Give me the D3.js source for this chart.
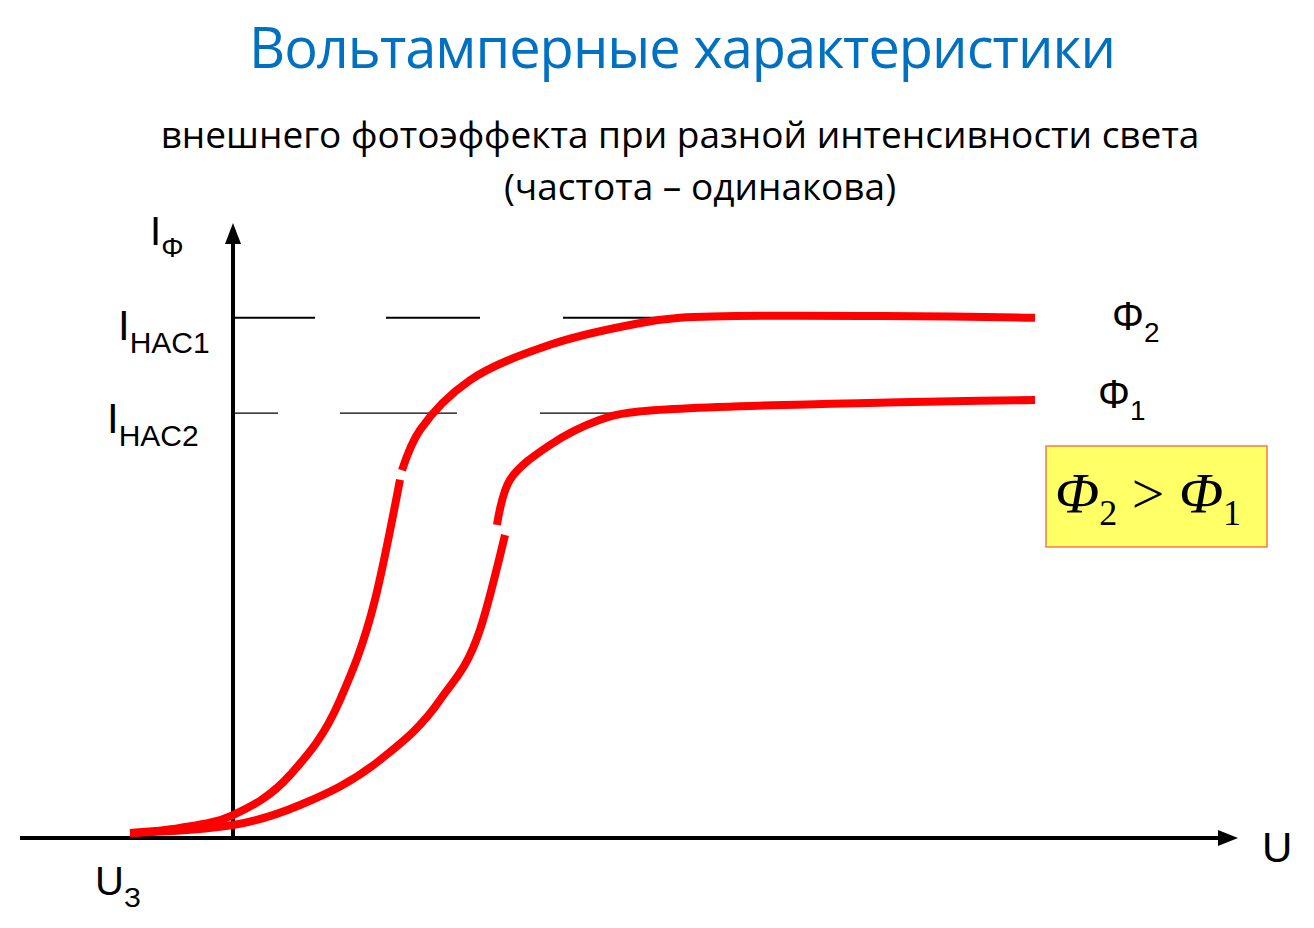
<!DOCTYPE html><html><head><meta charset="utf-8"><script src="https://cdn.jsdelivr.net/npm/d3@7"></script>
<style>body{margin:0;background:#fff}</style></head><body><svg id="c" width="1314" height="928"></svg>
<script>
const phi2A=[[-1.03,0.083],[-0.53,0.167],[0,0.383],[0.57,1.05],[1.07,2.3],[1.42,3.97],[1.67,5.97]];
const phi2B=[[1.69,6.13],[1.87,6.8],[2.37,7.63],[3.17,8.22],[3.97,8.55],[4.47,8.67],[8.02,8.67]];
const phi1A=[[-1.03,0.083],[0,0.217],[0.67,0.55],[1.47,1.3],[2.07,2.3],[2.47,3.47],[2.72,5.05]];
const phi1B=[[2.64,5.22],[2.77,5.97],[3.17,6.55],[3.67,6.97],[4.02,7.1],[8.02,7.3]];
const satLevels=[{v:8.67,x1:4.47,dash:"82,71,94,83,117"},{v:7.08,x1:4.03,dash:"45,62,117,83,96"}];
const yLabels=["HAC1","HAC2"];
const svg=d3.select("#c");
const x=d3.scaleLinear().domain([0,10]).range([233,1233]);
const y=d3.scaleLinear().domain([0,10]).range([838,238]);
const F="Liberation Sans, Arial, sans-serif";
svg.append("text").attr("x",682).attr("y",68).attr("text-anchor","middle").attr("font-family","Open Sans, sans-serif").attr("font-size",56).attr("fill","#0070c0").attr("letter-spacing",-1).text("Вольтамперные характеристики");
svg.append("text").attr("x",680).attr("y",148).attr("text-anchor","middle").attr("font-family","Open Sans, sans-serif").attr("font-size",37).text("внешнего фотоэффекта при разной интенсивности света");
svg.append("text").attr("x",700).attr("y",200).attr("text-anchor","middle").attr("font-family","Open Sans, sans-serif").attr("font-size",37).text("(частота – одинакова)");
// dashes
satLevels.forEach((s,i)=>{svg.append("line").attr("x1",x(0)).attr("x2",x(s.x1)).attr("y1",y(s.v)).attr("y2",y(s.v)).attr("stroke","#000").attr("stroke-width",i?1.3:2).attr("stroke-dasharray",s.dash);});
// axes
svg.append("line").attr("x1",20).attr("x2",x(9.9)).attr("y1",y(0)).attr("y2",y(0)).attr("stroke","#000").attr("stroke-width",4);
svg.append("line").attr("x1",x(0)).attr("x2",x(0)).attr("y1",y(0)+2).attr("y2",y(9.9)).attr("stroke","#000").attr("stroke-width",4);
svg.append("path").attr("d",`M${x(10.05)},${y(0)} L${x(9.85)},${y(0)-8} L${x(9.85)},${y(0)+8}Z`);
svg.append("path").attr("d",`M${x(0)},${y(10.25)} L${x(0)-8},${y(9.9)} L${x(0)+8},${y(9.9)}Z`);
const line=d3.line().x(d=>x(d[0])).y(d=>y(d[1])).curve(d3.curveMonotoneX);
const lineB=d3.line().x(d=>x(d[0])).y(d=>y(d[1])).curve(d3.curveCatmullRom);
[phi2A,phi1A].forEach(d=>svg.append("path").attr("d",line(d)).attr("fill","none").attr("stroke","#ff0000").attr("stroke-width",8));
[phi2B,phi1B].forEach(d=>svg.append("path").attr("d",lineB(d)).attr("fill","none").attr("stroke","#ff0000").attr("stroke-width",8));
// labels
function sub(xx,yy,main,s,fs,ss,anchor){const t=svg.append("text").attr("x",xx).attr("y",yy).attr("font-family",F).attr("font-size",fs).attr("text-anchor",anchor||"start");t.append("tspan").text(main);t.append("tspan").attr("font-size",ss).attr("dy",fs*0.3).text(s);}
sub(150,245,"I","Φ",40,28);
sub(118,340,"I",yLabels[0],42,30);
sub(107,433,"I",yLabels[1],42,30);
sub(95,895,"U","З",40,28);
svg.append("text").attr("x",1262).attr("y",862).attr("font-family",F).attr("font-size",42).text("U");
sub(1112,330,"Φ","2",40,28);
sub(1098,408,"Φ","1",40,28);
svg.append("rect").attr("x",1046).attr("y",446).attr("width",221).attr("height",101).attr("fill","#ffff66").attr("stroke","#f08040").attr("stroke-width",1.5);
const t=svg.append("text").attr("x",1055).attr("y",513).attr("font-family","Liberation Serif, Times New Roman, serif").attr("font-size",58);
t.append("tspan").attr("font-style","italic").text("Φ");t.append("tspan").attr("font-size",36).attr("dy",12).text("2");
t.append("tspan").attr("dy",-12).text(" > ");t.append("tspan").attr("font-style","italic").text("Φ");t.append("tspan").attr("font-size",36).attr("dy",12).text("1");
</script></body></html>
